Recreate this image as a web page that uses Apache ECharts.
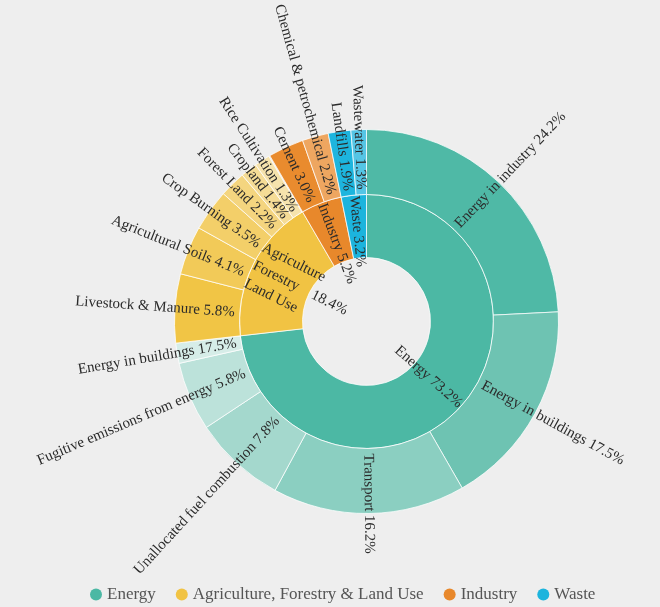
<!DOCTYPE html>
<html>
<head>
<meta charset="utf-8">
<script src="https://cdn.jsdelivr.net/npm/echarts@6/dist/echarts.min.js"></script>
<style>
html,body{margin:0;padding:0;background:#eeeeee;}
#chart{width:660px;height:607px;}
</style>
</head>
<body>
<div id="chart"></div>
<script>
// Inner ring (sectors)
const sectorNames = ['Energy', 'Agriculture, Forestry & Land Use', 'Industry', 'Waste'];
const sectorLabels = ['Energy 73.2%', 'Agriculture\nForestry    18.4%\nLand Use', 'Industry 5.2%', 'Waste 3.2%'];
const sectorValues = [73.2, 18.4, 5.2, 3.2];
const sectorColors = ['#4cb8a4', '#f1c343', '#e8882b', '#1cb4dd'];

// Outer ring (sub-sectors)
const energyNames = ['Energy in industry', 'Energy in buildings', 'Transport', 'Unallocated fuel combustion', 'Fugitive emissions from energy', 'Energy in buildings'];
const energyValues = [24.2, 17.5, 16.2, 7.8, 5.8, 1.7];
const energyShown = [24.2, 17.5, 16.2, 7.8, 5.8, 17.5];
const energyColors = ['#4fb9a6', '#6ec3b2', '#8bcfc1', '#a4d8cd', '#bce2da', '#d6ede8'];

const agriNames = ['Livestock & Manure', 'Agricultural Soils', 'Crop Burning', 'Forest Land', 'Cropland', 'Rice Cultivation'];
const agriValues = [5.8, 4.1, 3.5, 2.2, 1.4, 1.3];
const agriColors = ['#f1c545', '#f2ca58', '#f3cf69', '#f4d57f', '#f5dc96', '#f6e3ad'];

const industryNames = ['Cement', 'Chemical & petrochemical'];
const industryValues = [3.0, 2.2];
const industryColors = ['#e98b2e', '#eea660'];

const wasteNames = ['Landfills', 'Wastewater'];
const wasteValues = [1.9, 1.3];
const wasteColors = ['#1db5de', '#55c5e5'];

function leaves(names, values, colors, shown) {
  return names.map((n, i) => ({
    name: n,
    value: values[i],
    itemStyle: { color: colors[i] },
    label: { formatter: n + ' ' + (shown ? shown[i] : values[i]).toFixed(1) + '%' }
  }));
}
const children = [
  leaves(energyNames, energyValues, energyColors, energyShown),
  leaves(agriNames, agriValues, agriColors),
  leaves(industryNames, industryValues, industryColors),
  leaves(wasteNames, wasteValues, wasteColors)
];
const sunData = sectorNames.map((n, i) => ({
  name: n,
  value: sectorValues[i],
  itemStyle: { color: sectorColors[i] },
  label: i === 1 ? { formatter: sectorLabels[i], lineHeight: 20 } : { formatter: sectorLabels[i] },
  children: children[i]
}));

const font = 'Liberation Serif';
const chart = echarts.init(document.getElementById('chart'), null, { renderer: 'canvas' });
const legendSeries = sectorNames.map((n, i) => ({
  type: 'pie', name: n, data: [], showEmptyCircle: false, radius: 0,
  itemStyle: { color: sectorColors[i] }, silent: true
}));
chart.setOption({
  backgroundColor: '#eeeeee',
  animation: false,
  legend: {
    data: sectorNames,
    left: 85,
    top: 581,
    icon: 'circle',
    itemWidth: 12,
    itemHeight: 12,
    itemGap: 20,
    textStyle: { fontFamily: font, fontSize: 17, color: '#555' }
  },
  series: [{
    type: 'sunburst',
    center: [366.5, 321.5],
    sort: null,
    nodeClick: false,
    emphasis: { disabled: true },
    data: sunData,
    itemStyle: { borderColor: 'rgba(255,255,255,0.75)', borderWidth: 1 },
    label: { rotate: 'radial', fontFamily: font, fontSize: 15, color: '#2b2b2b' },
    levels: [
      {},
      { r0: 64, r: 127, label: { align: 'right', distance: 1 } },
      { r0: 127, r: 192, label: { align: 'left', distance: 5 } }
    ]
  }].concat(legendSeries)
});
</script>
</body>
</html>
